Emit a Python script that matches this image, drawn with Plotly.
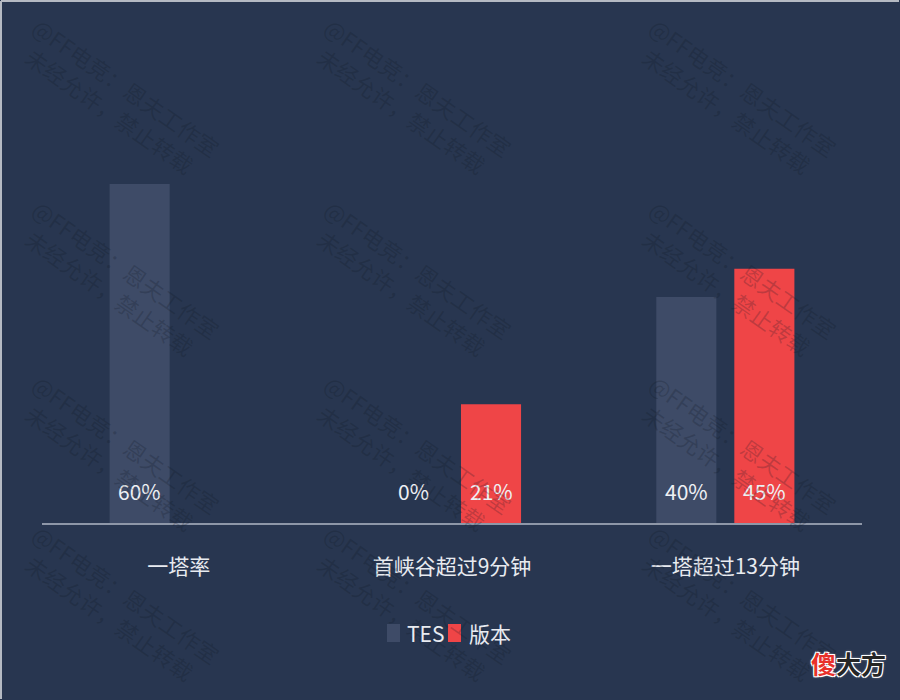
import plotly.graph_objects as go

categories = ["一塔率", "首峡谷超过9分钟", "一塔超过13分钟"]
tes_values = [60, 0, 40]
version_values = [None, 21, 45]
series_names = ["TES", "版本"]

BG = "#283650"
TES_C = "#3e4b67"
RED_C = "#ef4547"
TXT = "#e8ebf0"
FONT = "Noto Sans CJK SC"

L, R, T, B = 42, 38, 71, 177
PW, PH = 900 - L - R, 700 - T - B


def px2paper(px, py):
    return (px - L) / PW, (700 - B - py) / PH


fig = go.Figure()
fig.add_trace(go.Bar(x=categories, y=tes_values, name=series_names[0],
                     marker=dict(color=TES_C, line_width=0)))
fig.add_trace(go.Bar(x=categories, y=version_values, name=series_names[1],
                     marker=dict(color=RED_C, line_width=0)))

annotations = []
for vals, shift in ((tes_values, -39), (version_values, 39)):
    for c, v in zip(categories, vals):
        if v is None:
            continue
        annotations.append(dict(x=c, y=5.6, xref="x", yref="y", text=f"{v}%",
                                showarrow=False, xshift=shift,
                                font=dict(family=FONT, size=21, color="#eef0f4")))

# faint watermarks
wm = "@FF电竞：恩夫工作室<br>未经允许，禁止转载"
for cx in (118, 410, 735):
    for cy in (98, 280, 455, 605):
        xp, yp = px2paper(cx, cy)
        annotations.append(dict(x=xp, y=yp, xref="paper", yref="paper", text=wm, showarrow=False,
                                xanchor="center", yanchor="middle",
                                textangle=35, font=dict(family=FONT, size=22,
                                                        color="rgba(15,22,35,0.22)")))

# custom legend
shapes = []
legend_items = [(series_names[0], TES_C, 387, 405), (series_names[1], RED_C, 448, 467)]
for name, col, sx, tx in legend_items:
    x0, y0 = px2paper(sx, 642)
    x1, y1 = px2paper(sx + 13, 624)
    shapes.append(dict(type="rect", xref="paper", yref="paper", x0=x0, x1=x1, y0=y0, y1=y1,
                       fillcolor=col, line_width=0))
    xp, yp = px2paper(tx, 633)
    annotations.append(dict(x=xp, y=yp, xref="paper", yref="paper", xanchor="left", yanchor="middle",
                            text=name, showarrow=False,
                            font=dict(family=FONT, size=21, color=TXT)))

xp, yp = px2paper(848, 663)
annotations.append(dict(x=xp, y=yp, xref="paper", yref="paper", xanchor="center", yanchor="middle",
                        text="<b><span style='color:#e8312a'>傻</span>大方</b>", showarrow=False,
                        font=dict(family=FONT, size=25, color="#262626",
                                  shadow="1px 1px 0 #fff, -1px -1px 0 #fff, 1px -1px 0 #fff, -1px 1px 0 #fff, 0 0 3px #fff")))

x0p, y1p = px2paper(1, 1)
x1p, _ = px2paper(899, 1)
_, y0p = px2paper(1, 699)
shapes += [
    dict(type="line", xref="paper", yref="paper", x0=x0p, x1=x1p, y0=y1p, y1=y1p,
         line=dict(color="#b5bac3", width=2)),
    dict(type="line", xref="paper", yref="paper", x0=x0p, x1=x0p, y0=y0p, y1=y1p,
         line=dict(color="#b5bac3", width=2)),
]

fig.update_layout(
    width=900, height=700,
    paper_bgcolor=BG, plot_bgcolor=BG,
    margin=dict(l=L, r=R, t=T, b=B),
    barmode="group", bargap=0.429, bargroupgap=0.23,
    font=dict(family=FONT, color=TXT),
    xaxis=dict(showgrid=False, showline=True, linecolor="#8e97a8", linewidth=2,
               ticks="outside", ticklen=24, tickcolor=BG,
               tickfont=dict(size=21, color=TXT, family=FONT)),
    yaxis=dict(range=[0, 80], visible=False, showgrid=False, zeroline=False),
    showlegend=False,
    annotations=annotations,
    shapes=shapes,
)
fig.write_html("out.html", config={"displayModeBar": False},
               post_script="document.body.style.margin='0';document.body.style.overflow='hidden';")
